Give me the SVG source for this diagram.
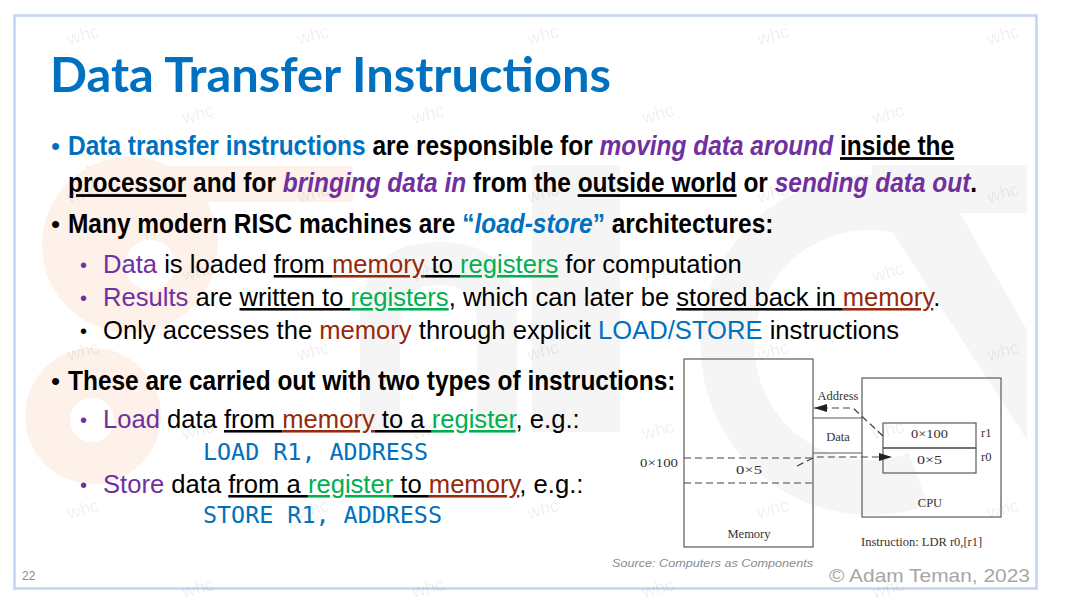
<svg xmlns="http://www.w3.org/2000/svg" width="1066" height="605" viewBox="0 0 1066 605">
<style>
.bg{fill:#ffffff}
.peach{fill:#FDF1EA}
.grey{fill:#F5F5F5}
.title{font-family:Lato,"Liberation Sans",Arial,sans-serif;font-weight:bold;font-size:48px;fill:#0070C0}
.b{font-family:"Liberation Sans",Arial,sans-serif;font-weight:bold;font-size:28px;fill:#000}
.r{font-family:"Liberation Sans",Arial,sans-serif;font-size:25.6px;fill:#000}
.bul{font-family:"Liberation Sans",Arial,sans-serif;font-size:26px}
.sbul{font-family:"Liberation Sans",Arial,sans-serif;font-size:20px}
.mono{font-family:"DejaVu Sans Mono","Liberation Mono",monospace;font-size:23.3px;fill:#0070C0}
.blue{fill:#0070C0}
.pur{fill:#7030A0}
.pi{fill:#7030A0;font-style:italic}
.it{font-style:italic}
.brn{fill:#952A0C}
.grn{fill:#00B050}
.u{text-decoration:underline}
.box{fill:none;stroke:#5a5a5a;stroke-width:1.2}
.dash{fill:none;stroke:#444;stroke-width:1.2;stroke-dasharray:7 4}
.bus{fill:none;stroke:#5a5a5a;stroke-width:1.2}
.sf{font-family:"Liberation Serif","Times New Roman",serif;font-size:12.5px;fill:#333}
.wm{font-family:"Liberation Sans",Arial,sans-serif;font-size:18px;fill:#000;fill-opacity:0.075;text-anchor:middle}
.foot{font-family:"Liberation Sans",Arial,sans-serif;fill:#a6a6a6}
</style>
<defs>
<marker id="ah" viewBox="0 0 13 8" refX="13" refY="4" markerWidth="13" markerHeight="8" markerUnits="userSpaceOnUse" orient="auto">
<path d="M0,0 L13,4 L0,8 Z" fill="#222"/>
</marker>
</defs>
<rect class="bg" x="0" y="0" width="1066" height="605"/>
<g id="background-logo">
<path class="peach" fill-rule="evenodd" d="M130,157 A88,88 0 1 1 129.9,157 Z M150,240 A25,25 0 1 0 150.1,240 Z"/>
<rect class="peach" x="86" y="166" width="267" height="36"/>
<path class="peach" fill-rule="evenodd" d="M93,348 A68,68 0 1 1 92.9,348 Z M92,398 A22,22 0 1 0 92.1,398 Z"/>
<path class="grey" d="M360,432 V322 Q360,242 440,242 Q517,242 517,322 V432 H477 V322 Q477,285 440,285 Q400,285 400,322 V432 Z"/>
<rect class="grey" x="532" y="165" width="88" height="267"/>
<path class="grey" d="M928,185 A170,170 0 1 0 928,505 L909,453 A115,115 0 1 1 909,237 Z"/>
<rect class="grey" x="872" y="165" width="155" height="48"/>
<polygon class="grey" points="880,213 960,213 1027,330 1027,440"/>
</g>
<rect x="14.5" y="15.5" width="1022" height="573" fill="none" stroke="#C6D4FA" stroke-width="2.6"/>
<g id="title">
<text class="title" x="50" y="92" textLength="561" lengthAdjust="spacingAndGlyphs">Data Transfer Instructions</text>
</g>
<g id="bullets">
<text class="bul blue" x="51" y="155">•</text>
<text class="b" transform="translate(68,155) scale(0.874,1)"><tspan class="blue">Data transfer instructions</tspan> are responsible for <tspan class="pi">moving data around</tspan> <tspan class="u">inside the</tspan></text>
<text class="b" transform="translate(68,192) scale(0.874,1)"><tspan class="u">processor</tspan> and for <tspan class="pi">bringing data in</tspan> from the <tspan class="u">outside world</tspan> or <tspan class="pi">sending data out</tspan>.</text>
<text class="bul" x="51" y="233">•</text>
<text class="b" transform="translate(68,233) scale(0.874,1)">Many modern RISC machines are <tspan class="blue">“</tspan><tspan class="blue it">load-store</tspan><tspan class="blue">”</tspan> architectures:</text>
<text class="sbul pur" x="80" y="272">•</text>
<text class="r" x="103" y="273"><tspan class="pur">Data</tspan> is loaded <tspan class="u">from </tspan><tspan class="u brn">memory</tspan><tspan class="u"> to </tspan><tspan class="u grn">registers</tspan> for computation</text>
<text class="sbul pur" x="80" y="305">•</text>
<text class="r" x="103" y="306"><tspan class="pur">Results</tspan> are <tspan class="u">written to </tspan><tspan class="u grn">registers</tspan>, which can later be <tspan class="u">stored back in </tspan><tspan class="u brn">memory</tspan>.</text>
<text class="sbul" x="80" y="338">•</text>
<text class="r" x="103" y="339">Only accesses the <tspan class="brn">memory</tspan> through explicit <tspan class="blue">LOAD/STORE</tspan> instructions</text>
<text class="bul" x="51" y="390">•</text>
<text class="b" transform="translate(68,390) scale(0.874,1)">These are carried out with two types of instructions:</text>
<text class="sbul pur" x="80" y="427">•</text>
<text class="r" x="103" y="428"><tspan class="pur">Load</tspan> data <tspan class="u">from </tspan><tspan class="u brn">memory</tspan><tspan class="u"> to a </tspan><tspan class="u grn">register</tspan>, e.g.:</text>
<text class="mono" x="203" y="460" textLength="225" lengthAdjust="spacingAndGlyphs">LOAD R1, ADDRESS</text>
<text class="sbul pur" x="80" y="492">•</text>
<text class="r" x="103" y="493"><tspan class="pur">Store</tspan> data <tspan class="u">from a </tspan><tspan class="u grn">register</tspan><tspan class="u"> to </tspan><tspan class="u brn">memory</tspan>, e.g.:</text>
<text class="mono" x="203" y="523" textLength="239" lengthAdjust="spacingAndGlyphs">STORE R1, ADDRESS</text>
</g>
<g id="memory">
<rect class="box" x="684" y="359" width="129" height="188"/>
<line class="dash" x1="684" y1="458" x2="813" y2="458"/>
<line class="dash" x1="684" y1="483" x2="813" y2="483"/>
<text class="sf" x="659" y="467" text-anchor="middle" textLength="38" lengthAdjust="spacingAndGlyphs">0×100</text>
<text class="sf" x="749" y="474" text-anchor="middle" textLength="26" lengthAdjust="spacingAndGlyphs">0×5</text>
<text class="sf" x="749" y="538" text-anchor="middle">Memory</text>
</g>
<g id="cpu">
<rect class="box" x="862" y="378" width="139" height="139"/>
<text class="sf" x="930" y="507" text-anchor="middle">CPU</text>
</g>
<g id="reg-r1">
<rect class="box" x="883" y="423" width="93" height="25"/>
<text class="sf" x="929.5" y="438" text-anchor="middle" textLength="37" lengthAdjust="spacingAndGlyphs">0×100</text>
<text class="sf" x="981" y="437">r1</text>
</g>
<g id="reg-r0">
<rect class="box" x="883" y="448" width="93" height="25"/>
<text class="sf" x="929.5" y="464" text-anchor="middle" textLength="25" lengthAdjust="spacingAndGlyphs">0×5</text>
<text class="sf" x="981" y="461">r0</text>
</g>
<g id="connectors">
<line class="bus" x1="813" y1="418" x2="862" y2="418"/>
<line class="bus" x1="813" y1="453" x2="862" y2="453"/>
<text class="sf" x="838" y="400" text-anchor="middle">Address</text>
<text class="sf" x="838" y="441" text-anchor="middle">Data</text>
<path class="dash" d="M883,436 L853,408 L814,408" marker-end="url(#ah)"/>
<path class="dash" d="M797,466 L815,457 L892,457" marker-end="url(#ah)"/>
</g>
<g id="caption">
<text class="sf" x="861" y="546">Instruction: LDR r0,[r1]</text>
</g>
<g id="footer">
<text x="612" y="567" font-family="'Liberation Sans',Arial,sans-serif" font-size="11.5" font-style="italic" fill="#8c8c8c" textLength="201" lengthAdjust="spacingAndGlyphs">Source: Computers as Components</text>
<text class="foot" x="829" y="582" font-size="19" textLength="201" lengthAdjust="spacingAndGlyphs">© Adam Teman, 2023</text>
<text x="22" y="580" font-family="'Liberation Sans',Arial,sans-serif" font-size="12" fill="#8c8c8c">22</text>
</g>
<g id="watermarks" class="wm">
<text x="83" y="41" transform="rotate(-15 83 35)">whc</text>
<text x="313" y="41" transform="rotate(-15 313 35)">whc</text>
<text x="543" y="41" transform="rotate(-15 543 35)">whc</text>
<text x="773" y="41" transform="rotate(-15 773 35)">whc</text>
<text x="1003" y="41" transform="rotate(-15 1003 35)">whc</text>
<text x="198" y="120" transform="rotate(-15 198 114)">whc</text>
<text x="428" y="120" transform="rotate(-15 428 114)">whc</text>
<text x="658" y="120" transform="rotate(-15 658 114)">whc</text>
<text x="888" y="120" transform="rotate(-15 888 114)">whc</text>
<text x="83" y="199" transform="rotate(-15 83 193)">whc</text>
<text x="313" y="199" transform="rotate(-15 313 193)">whc</text>
<text x="543" y="199" transform="rotate(-15 543 193)">whc</text>
<text x="773" y="199" transform="rotate(-15 773 193)">whc</text>
<text x="1003" y="199" transform="rotate(-15 1003 193)">whc</text>
<text x="198" y="278" transform="rotate(-15 198 272)">whc</text>
<text x="428" y="278" transform="rotate(-15 428 272)">whc</text>
<text x="658" y="278" transform="rotate(-15 658 272)">whc</text>
<text x="888" y="278" transform="rotate(-15 888 272)">whc</text>
<text x="83" y="357" transform="rotate(-15 83 351)">whc</text>
<text x="313" y="357" transform="rotate(-15 313 351)">whc</text>
<text x="543" y="357" transform="rotate(-15 543 351)">whc</text>
<text x="773" y="357" transform="rotate(-15 773 351)">whc</text>
<text x="1003" y="357" transform="rotate(-15 1003 351)">whc</text>
<text x="198" y="436" transform="rotate(-15 198 430)">whc</text>
<text x="428" y="436" transform="rotate(-15 428 430)">whc</text>
<text x="658" y="436" transform="rotate(-15 658 430)">whc</text>
<text x="888" y="436" transform="rotate(-15 888 430)">whc</text>
<text x="83" y="515" transform="rotate(-15 83 509)">whc</text>
<text x="313" y="515" transform="rotate(-15 313 509)">whc</text>
<text x="543" y="515" transform="rotate(-15 543 509)">whc</text>
<text x="773" y="515" transform="rotate(-15 773 509)">whc</text>
<text x="1003" y="515" transform="rotate(-15 1003 509)">whc</text>
<text x="198" y="594" transform="rotate(-15 198 588)">whc</text>
<text x="428" y="594" transform="rotate(-15 428 588)">whc</text>
<text x="658" y="594" transform="rotate(-15 658 588)">whc</text>
<text x="888" y="594" transform="rotate(-15 888 588)">whc</text>
</g>
</svg>
